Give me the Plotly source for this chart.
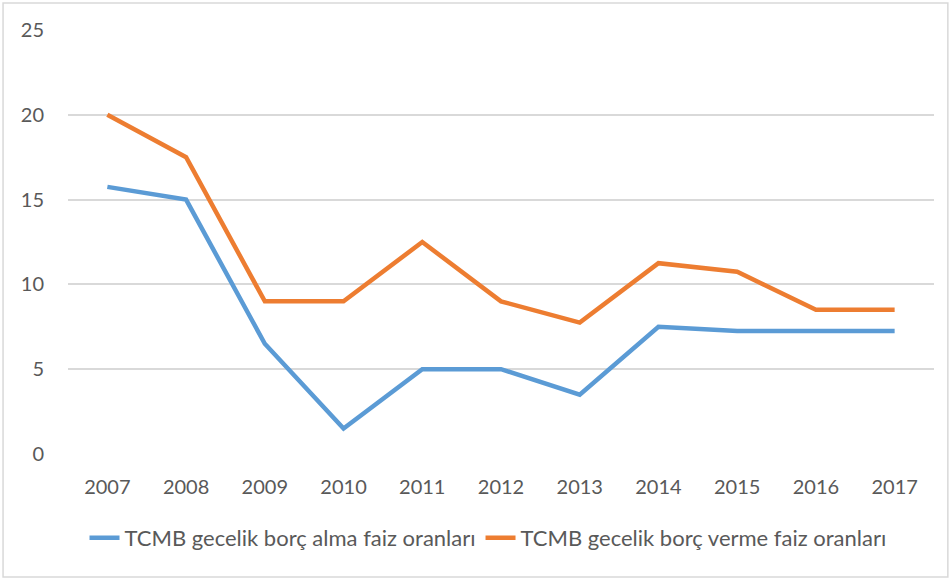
import plotly.graph_objects as go

years = ["2007", "2008", "2009", "2010", "2011", "2012", "2013", "2014", "2015", "2016", "2017"]
borc_alma = [15.75, 15, 6.5, 1.5, 5, 5, 3.5, 7.5, 7.25, 7.25, 7.25]
borc_verme = [20, 17.5, 9, 9, 12.5, 9, 7.75, 11.25, 10.75, 8.5, 8.5]
y_ticks = [0, 5, 10, 15, 20, 25]

fig = go.Figure()
fig.add_trace(go.Scatter(x=years, y=borc_alma, mode="lines",
                         name="TCMB gecelik borç alma faiz oranları",
                         line=dict(color="#5B9BD5", width=4.5)))
fig.add_trace(go.Scatter(x=years, y=borc_verme, mode="lines",
                         name="TCMB gecelik borç verme faiz oranları",
                         line=dict(color="#ED7D31", width=4.5)))

font_col = "#595959"
fig.update_layout(
    width=951, height=581,
    margin=dict(l=68, r=17, t=30, b=127),
    plot_bgcolor="white", paper_bgcolor="white",
    font=dict(family="Lato", size=20, color=font_col),
    showlegend=True,
    legend=dict(orientation="h", x=0.485, xanchor="center", y=-0.198, yanchor="middle",
                font=dict(size=22, color=font_col)),
    xaxis=dict(type="category", range=[-0.5, 10.5], showgrid=False, zeroline=False,
               showline=False, ticks="outside", ticklen=15, tickcolor="rgba(0,0,0,0)"),
    yaxis=dict(range=[0, 25], tickvals=y_ticks, showgrid=True, gridcolor="#D9D9D9",
               gridwidth=1.5, zeroline=False, showline=False, ticks="outside",
               ticklen=19, tickcolor="rgba(0,0,0,0)"),
    shapes=[dict(type="rect", xref="paper", yref="paper", x0=-0.075, x1=1.016,
                 y0=-0.29, y1=1.0637, line=dict(color="#D9D9D9", width=1.5))],
)

# page body has a default 8px margin; remove it so the figure sits at the window origin
fig.write_html("out.html", config={"displayModeBar": False},
               post_script="document.body.style.margin='0';")
